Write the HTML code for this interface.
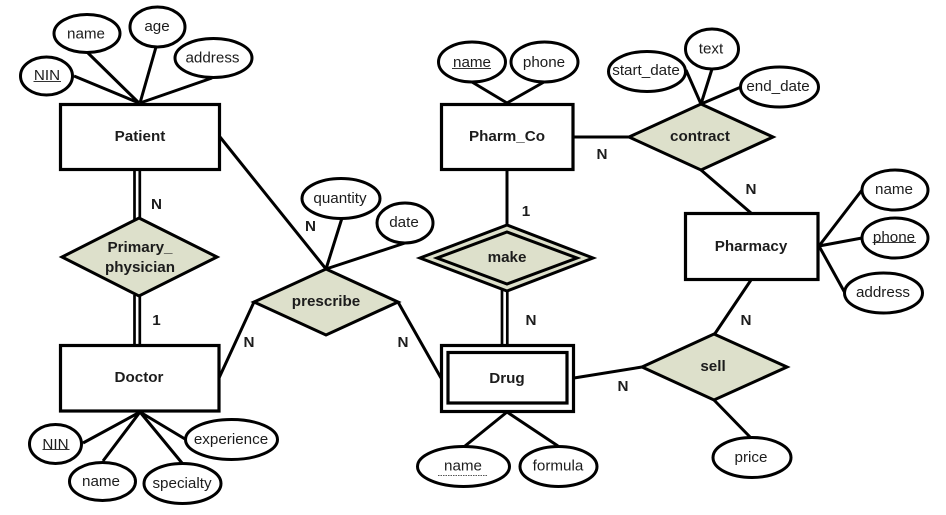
<!DOCTYPE html>
<html><head><meta charset="utf-8"><style>
html,body{margin:0;padding:0;background:#fff}
svg{display:block}
text{font-family:"Liberation Sans",sans-serif;font-size:15.2px;text-anchor:middle;fill:#1c1c1c}
.b{font-weight:bold;fill:#111}
.e{fill:#fff;stroke:#000;stroke-width:3}
.d{fill:#dde0cb;stroke:#000;stroke-width:3;stroke-linejoin:miter}
.r{fill:#fff;stroke:#000;stroke-width:3.200}
.l{stroke:#000;stroke-width:3;fill:none}
.t{stroke:#000;stroke-width:2.700;fill:none}
.u{stroke:#333;stroke-width:1.100}
</style></head><body>
<svg width="946" height="515" viewBox="0 0 946 515" xmlns="http://www.w3.org/2000/svg">
<rect width="946" height="515" fill="#fff"/>
<!-- connectors -->
<g class="l">
<path d="M74 76L139 103M88 53L139 103M156 47L140 103M212 78L140 103"/>
<path d="M83 443L140 412M103 461L140 412M182 463L140 412M185 439L140 412"/>
<path d="M220 137L326 269M342 218L326 269M405 243L326 269"/>
<path d="M219 378L254 302M398 302L441 378"/>
<path d="M472 82L507 103M544 82L507 103M507 170V226M573 137H630"/>
<path d="M686 70L701 104M712 69L701 104M741 87L701 104M701 170L751 213"/>
<path d="M819 246L862 190M819 246L862 238M819 246L845 293"/>
<path d="M751 280L714 335M574 378L642 367M714 400L751 438"/>
<path d="M507 412L465 446M507 412L558 446"/>
</g>
<g class="t">
<path d="M134.500 170V220M139.800 170V220M134.500 295V346M139.800 295V346"/>
<path d="M502 288V346M507.300 288V346"/>
</g>
<!-- entities -->
<rect class="r" x="60.500" y="104.500" width="159" height="65"/>
<rect class="r" x="60.500" y="345.500" width="158.500" height="65.500"/>
<rect class="r" x="441.500" y="104.500" width="131.500" height="65"/>
<rect class="r" x="685.500" y="213.500" width="132.500" height="66"/>
<rect class="r" x="441.500" y="345.500" width="132" height="66"/>
<rect class="r" x="448" y="352.500" width="119" height="50.500"/>
<!-- relationships -->
<polygon class="d" points="139,218 217,257 139,296 62,257"/>
<polygon class="d" points="326,269 398,302 326,335 254,302"/>
<polygon class="d" points="507,225 593,258 507,291 420,258"/>
<polygon class="d" points="507,232 577,258 507,284 437,258"/>
<polygon class="d" points="701,104 773,137 701,170 629,137"/>
<polygon class="d" points="714,334 787,367 714,400 642,367"/>
<!-- attributes -->
<ellipse class="e" cx="46.500" cy="76" rx="26" ry="19"/>
<ellipse class="e" cx="87" cy="33.500" rx="33" ry="19"/>
<ellipse class="e" cx="157.500" cy="27" rx="27.500" ry="20"/>
<ellipse class="e" cx="213.500" cy="58" rx="38.500" ry="19.500"/>
<ellipse class="e" cx="55.500" cy="444" rx="26" ry="19.500"/>
<ellipse class="e" cx="102.500" cy="481.500" rx="33" ry="19"/>
<ellipse class="e" cx="182.500" cy="483.500" rx="38.500" ry="20"/>
<ellipse class="e" cx="231.500" cy="439.500" rx="46" ry="20"/>
<ellipse class="e" cx="341" cy="198.500" rx="39" ry="20"/>
<ellipse class="e" cx="405" cy="223" rx="28" ry="20"/>
<ellipse class="e" cx="472" cy="62" rx="33.500" ry="20"/>
<ellipse class="e" cx="544.500" cy="62" rx="33.500" ry="20"/>
<ellipse class="e" cx="647" cy="71.500" rx="38.500" ry="20"/>
<ellipse class="e" cx="712" cy="49" rx="26.500" ry="20"/>
<ellipse class="e" cx="779.500" cy="87" rx="39" ry="20"/>
<ellipse class="e" cx="895" cy="190" rx="33" ry="20"/>
<ellipse class="e" cx="895" cy="238" rx="33" ry="20"/>
<ellipse class="e" cx="883.500" cy="293" rx="39" ry="20"/>
<ellipse class="e" cx="752" cy="457.500" rx="39" ry="20"/>
<ellipse class="e" cx="463.500" cy="466.500" rx="46" ry="20"/>
<ellipse class="e" cx="558.500" cy="466.500" rx="38.500" ry="20"/>
<!-- underlines -->
<path class="u" d="M33.500 81.500H61M42.500 449.500H69.500M452 68.500H491M872.500 242.500H916"/>
<path d="M438 475.500H488" stroke="#555" stroke-width="1.100" stroke-dasharray="1.500 1"/>
<!-- bold labels -->
<g class="b">
<text x="140" y="141">Patient</text>
<text x="140" y="252">Primary_</text>
<text x="140" y="272">physician</text>
<text x="139" y="382">Doctor</text>
<text x="326" y="306">prescribe</text>
<text x="507" y="262">make</text>
<text x="507" y="383">Drug</text>
<text x="507" y="141">Pharm_Co</text>
<text x="700" y="141">contract</text>
<text x="751" y="251">Pharmacy</text>
<text x="713" y="371">sell</text>
<text x="156.500" y="209">N</text>
<text x="156.500" y="325">1</text>
<text x="249" y="347">N</text>
<text x="310.500" y="231">N</text>
<text x="403" y="347">N</text>
<text x="531" y="325">N</text>
<text x="623" y="391">N</text>
<text x="602" y="159">N</text>
<text x="526" y="216">1</text>
<text x="751" y="194">N</text>
<text x="746" y="325">N</text>
</g>
<!-- attribute labels -->
<text x="47" y="80">NIN</text>
<text x="86" y="38.500">name</text>
<text x="157" y="31">age</text>
<text x="212.500" y="62.500">address</text>
<text x="55.500" y="449">NIN</text>
<text x="101" y="486">name</text>
<text x="182" y="488">specialty</text>
<text x="231" y="444">experience</text>
<text x="340" y="203">quantity</text>
<text x="404" y="227">date</text>
<text x="472" y="67">name</text>
<text x="544" y="67">phone</text>
<text x="646" y="75">start_date</text>
<text x="711" y="53.500">text</text>
<text x="778" y="91">end_date</text>
<text x="894" y="194">name</text>
<text x="894" y="242">phone</text>
<text x="883" y="297">address</text>
<text x="751" y="462">price</text>
<text x="463" y="470.500">name</text>
<text x="558" y="470.500">formula</text>
</svg>
</body></html>
